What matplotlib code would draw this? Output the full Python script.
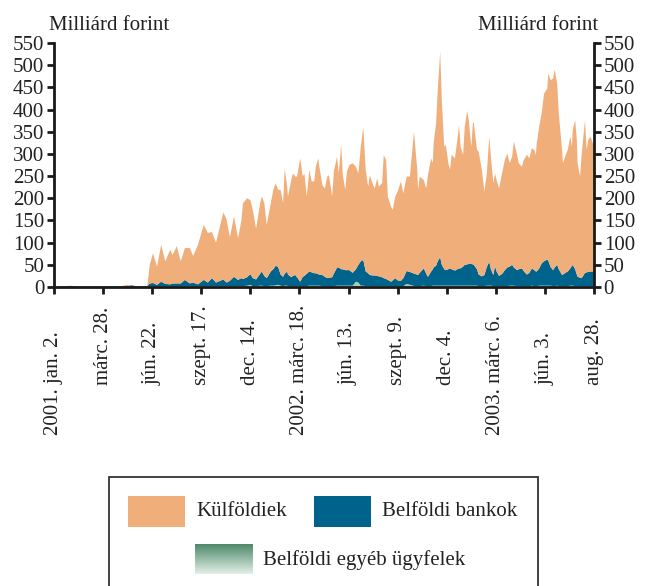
import numpy as np
import matplotlib
matplotlib.use("Agg")
import matplotlib.pyplot as plt
from matplotlib.patches import Rectangle
from matplotlib.colors import LinearSegmentedColormap

plt.rcParams['font.family'] = ['Liberation Serif', 'DejaVu Serif']

# trading-day index (0 = 2001. jan. 2., 660 = 2003. aug. 28.)
days = [0, 10, 20, 29, 44, 56, 71, 83, 89, 95, 101, 109, 114, 117, 121, 126, 131, 136,
        142, 145, 150, 155, 160, 166, 170, 176, 183, 188, 193, 198, 207, 211, 215, 220,
        225, 229,
        231, 236, 240, 243, 247, 252, 254, 257, 260, 265, 268, 271, 274, 277, 280, 282,
        285, 286, 290, 292, 295, 297, 301, 304, 306, 309, 312, 315, 318, 320, 323, 324,
        328, 331, 334, 336, 340, 342, 346, 348, 351, 353, 356, 358, 361, 365, 369, 372,
        375, 378, 381, 384, 386, 390, 392, 395, 397, 401, 403, 406, 408, 412, 414, 417,
        420, 424, 427, 431, 435, 439, 440, 444, 445, 447, 452, 455, 457, 461, 463, 464,
        467, 469, 472, 474, 477, 479, 482, 484, 486, 490, 493, 495, 497, 500, 502, 505,
        507, 510, 512, 513, 517, 519, 523, 526, 529, 532, 534, 537, 539, 541, 544, 548,
        551, 554, 557, 560, 562, 566, 568, 572, 574, 578, 581, 584, 587, 589, 590, 593,
        596, 599, 603, 604, 607, 610, 612, 615, 617, 621, 622, 626, 628, 631, 633, 634,
        637, 639, 640, 643, 645, 649, 651, 653, 656, 660]

# Milliárd forint
kulfoldiek = [0, 0, 0.5, 0, 0, 0, 0, 0.5, 3, 0, 1, 0, 0, 42, 67, 41, 83, 51,
              78, 64, 84, 50, 72, 80, 60, 89, 124, 112, 104, 90, 151, 142, 98, 136,
              94, 130,
              171, 178, 167, 154, 114, 159, 169, 165, 120, 154, 179, 186, 174, 191, 166, 237,
              191, 176, 219, 231, 222, 227, 278, 226, 231, 174, 229, 205, 207, 240, 261, 247,
              203, 199, 229, 231, 182, 230, 250, 212, 280, 212, 181, 222, 237, 247, 231, 206,
              258, 300, 229, 195, 225, 204, 196, 220, 202, 212, 277, 268, 188, 169, 159, 184,
              200, 224, 191, 213, 215, 300, 320, 236, 192, 217, 199, 192, 229, 255, 239, 280,
              321, 386, 464, 371, 276, 282, 239, 222, 258, 253, 292, 323, 274, 252, 311, 346,
              324, 264, 318, 322, 269, 277, 240, 188, 211, 282, 254, 207, 209, 206, 197, 230,
              248, 257, 233, 244, 284, 260, 239, 229, 250, 270, 258, 271, 271, 263, 289, 319,
              338, 378, 386, 421, 421, 432, 446, 409, 351, 282, 251, 268, 274, 297, 269, 304,
              336, 304, 256, 228, 281, 344, 276, 298, 304, 281]

belfoldi_bankok = [0, 1, 2, 1, 0.5, 1, 1, 1.5, 2, 3.5, 1, 1, 2, 7, 8, 4, 11, 6,
                   5, 7, 7, 7, 14, 6, 9, 5, 14, 9, 18, 8, 15, 8, 12, 21,
                   14, 18,
                   16, 19, 24, 18, 15, 27, 32, 23, 18, 32, 37, 44, 40, 25, 21, 27,
                   32, 26, 20, 23, 25, 20, 10, 21, 23, 28, 32, 30, 28, 28, 26, 25,
                   25, 21, 18, 19, 20, 28, 41, 41, 37, 37, 35, 35, 35, 29, 28, 40,
                   55, 58, 33, 29, 25, 24, 24, 23, 22, 20, 18, 16, 15, 11, 14, 19,
                   14, 13, 18, 29, 29, 28, 28, 26, 25, 30, 39, 28, 21, 33, 37, 41,
                   45, 55, 64, 47, 37, 35, 37, 39, 37, 34, 37, 39, 39, 43, 47, 48,
                   49, 49, 48, 47, 37, 26, 22, 25, 42, 54, 37, 25, 45, 33, 23, 28,
                   36, 42, 43, 47, 41, 36, 38, 40, 34, 26, 30, 39, 36, 33, 33, 39,
                   50, 55, 59, 57, 42, 36, 42, 47, 38, 25, 26, 31, 33, 39, 44, 47,
                   38, 26, 21, 19, 18, 30, 31, 32, 33, 33]

belfoldi_egyeb = [0, 0, 0.5, 0, 0, 0, 0, 0, 0, 0.5, 0, 0, 0, 1, 1, 1, 1, 1,
                  1, 1, 1, 1, 2, 2, 1, 1, 2, 1, 2, 2, 2, 2, 2, 2,
                  2, 2,
                  2, 3, 5, 2, 2, 3, 3, 2, 2, 3, 3, 4, 5, 3, 2, 3,
                  3, 2, 2, 2, 2, 2, 2, 2, 2, 2, 3, 3, 3, 3, 3, 3,
                  2, 2, 2, 2, 2, 2, 3, 3, 3, 3, 3, 3, 3, 3, 12, 10,
                  3, 3, 2, 2, 2, 2, 2, 2, 2, 2, 2, 2, 1, 1, 1, 1,
                  1, 1, 2, 7, 5, 3, 2, 2, 2, 2, 3, 2, 2, 2, 3, 3,
                  3, 3, 3, 3, 3, 3, 3, 3, 3, 3, 3, 3, 3, 3, 3, 3,
                  3, 3, 3, 3, 3, 2, 2, 2, 3, 3, 3, 2, 2, 2, 2, 2,
                  2, 2, 3, 3, 3, 2, 2, 2, 2, 2, 2, 3, 2, 2, 2, 3,
                  3, 3, 3, 3, 3, 2, 2, 3, 2, 2, 2, 2, 2, 3, 3, 3,
                  2, 2, 2, 2, 2, 2, 2, 2, 2, 2]

tick_days = [0, 60, 120, 180, 240, 300, 360, 420, 480, 540, 600, 660]
tick_labels = ['2001. jan. 2.', 'márc. 28.', 'jún. 22.', 'szept. 17.', 'dec. 14.',
               '2002. márc. 18.', 'jún. 13.', 'szept. 9.', 'dec. 4.',
               '2003. márc. 6.', 'jún. 3.', 'aug. 28.']

assert len(days) == len(kulfoldiek) == len(belfoldi_bankok) == len(belfoldi_egyeb)

c_kulf = '#F0AE7A'
c_bank = '#00638C'
c_egyeb = '#A9CDB7'
txt = '#222222'
fs = 15

fig = plt.figure(figsize=(6.52, 5.86), dpi=100)
ax = fig.add_axes([54 / 652, 1 - 287 / 586, 540 / 652, 244 / 586])

ax.stackplot(days, belfoldi_egyeb, belfoldi_bankok, kulfoldiek,
             colors=[c_egyeb, c_bank, c_kulf], linewidth=0)

ax.set_xlim(0, 660)
ax.set_ylim(0, 550)
ax.set_yticks(np.arange(0, 551, 50))
ax.set_xticks(tick_days)
ax.set_xticklabels([])

ax.spines['top'].set_visible(False)
for s in ['left', 'right', 'bottom']:
    ax.spines[s].set_linewidth(2)
    ax.spines[s].set_color('#1a1a1a')

ax.yaxis.set_ticks_position('both')
ax.tick_params(axis='y', which='both', direction='out', length=5, width=2,
               labelsize=fs, labelcolor=txt, pad=2, labelleft=True, labelright=True,
               color='#1a1a1a')
ax.tick_params(axis='x', direction='out', length=5, width=2, color='#1a1a1a')

# rotated date labels, year part hangs below the month part
for d, lab in zip(tick_days, tick_labels):
    off = 106.6 if lab[:2] == '20' else 70.6
    ax.annotate(lab, xy=(d, 0), xycoords=('data', 'axes fraction'),
                xytext=(0, -off), textcoords='offset points',
                rotation=90, rotation_mode='anchor', ha='left', va='center',
                fontsize=fs, color=txt)

fig.text(49 / 652, 1 - 30 / 586, 'Milliárd forint', fontsize=fs, color=txt,
         ha='left', va='baseline')
fig.text(598 / 652, 1 - 30 / 586, 'Milliárd forint', fontsize=fs, color=txt,
         ha='right', va='baseline')

# legend box (open at the bottom of the picture)
fig.patches.append(Rectangle((109 / 652, -0.02), 429 / 652, 0.02 + 1 - 477 / 586,
                             transform=fig.transFigure, fill=False,
                             edgecolor='#333333', linewidth=1.3))
fig.patches.append(Rectangle((128 / 652, 1 - 527 / 586), 57 / 652, 31 / 586,
                             transform=fig.transFigure, facecolor=c_kulf, edgecolor='none'))
fig.patches.append(Rectangle((314 / 652, 1 - 527 / 586), 57 / 652, 31 / 586,
                             transform=fig.transFigure, facecolor=c_bank, edgecolor='none'))
fig.text(196 / 652, 1 - 512 / 586, 'Külföldiek', fontsize=fs, color=txt, va='center')
fig.text(382 / 652, 1 - 512 / 586, 'Belföldi bankok', fontsize=fs, color=txt, va='center')

gax = fig.add_axes([195 / 652, 1 - 574 / 586, 58 / 652, 30 / 586])
gcmap = LinearSegmentedColormap.from_list('g', ['#4E8A6A', '#E2EFE7'])
gax.imshow(np.linspace(0, 1, 50).reshape(-1, 1), aspect='auto', cmap=gcmap)
gax.axis('off')
fig.text(263 / 652, 1 - 560 / 586, 'Belföldi egyéb ügyfelek', fontsize=fs, color=txt,
         va='center')

fig.savefig('out.png', dpi=100)
